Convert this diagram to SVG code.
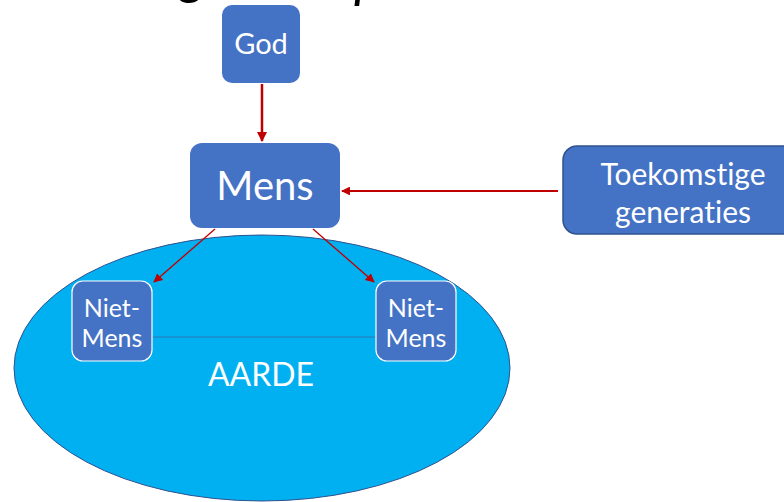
<svg xmlns="http://www.w3.org/2000/svg" width="784" height="502" viewBox="0 0 784 502">
  <defs>
    <style>
      .box { fill: #4472C4; }
      .lbl { fill: #FFFFFF; font-family: Lato, "Open Sans", sans-serif; text-anchor: middle; font-variant-ligatures: none; font-feature-settings: "liga" 0, "clig" 0; }
      .con { stroke: #C00000; fill: none; }
    </style>
    <marker id="ah" viewBox="0 0 10 10" refX="9" refY="5" markerWidth="4" markerHeight="4" orient="auto" markerUnits="strokeWidth">
      <path d="M0,0 L10,5 L0,10 z" fill="#C00000"/>
    </marker>
    <marker id="ahs" viewBox="0 0 10 10" refX="9" refY="5" markerWidth="7" markerHeight="7" orient="auto" markerUnits="strokeWidth">
      <path d="M0,0 L10,5 L0,10 z" fill="#C00000"/>
    </marker>
  </defs>
  <rect width="784" height="502" fill="#FFFFFF"/>
  <g id="title">
    <text x="180" y="-7" font-family="Lato, sans-serif" font-style="italic" font-size="54" fill="#000000">g</text>
    <text x="354" y="-3" font-family="Lato, sans-serif" font-style="italic" font-size="54" fill="#000000">p</text>
  </g>
  <g id="aarde">
    <ellipse cx="262" cy="368" rx="248" ry="133" fill="#00B0F0" stroke="#2F528F" stroke-width="1"/>
    <line x1="152" y1="337" x2="376" y2="337" stroke="#2E75B6" stroke-width="1"/>
    <text class="lbl" x="261" y="386" font-size="32">AARDE</text>
  </g>
  <g id="god">
    <rect class="box" x="222" y="5" width="78" height="78" rx="10"/>
    <text class="lbl" x="261" y="54" font-size="29">God</text>
  </g>
  <g id="mens">
    <rect class="box" x="190" y="143" width="150" height="85" rx="12"/>
    <text class="lbl" x="265" y="200" font-size="40">Mens</text>
  </g>
  <g id="toekomstige">
    <rect class="box" x="563" y="146" width="240" height="88" rx="14" stroke="#2F528F" stroke-width="1.5"/>
    <text class="lbl" x="683" y="185" font-size="30">Toekomstige</text>
    <text class="lbl" x="683" y="223" font-size="30">generaties</text>
  </g>
  <g id="nietmens-links">
    <rect class="box" x="72" y="281" width="80" height="80" rx="11" stroke="#FFFFFF" stroke-width="1.2"/>
    <text class="lbl" x="112" y="317" font-size="25">Niet-</text>
    <text class="lbl" x="112" y="347" font-size="25">Mens</text>
  </g>
  <g id="nietmens-rechts">
    <rect class="box" x="376" y="281" width="80" height="80" rx="11" stroke="#FFFFFF" stroke-width="1.2"/>
    <text class="lbl" x="416" y="317" font-size="25">Niet-</text>
    <text class="lbl" x="416" y="347" font-size="25">Mens</text>
  </g>
  <g id="connectors">
    <line class="con" x1="262" y1="84" x2="262" y2="141" stroke-width="2.5" marker-end="url(#ah)"/>
    <line class="con" x1="558" y1="191" x2="342" y2="191" stroke-width="2.2" marker-end="url(#ah)"/>
    <line class="con" x1="215" y1="229" x2="154" y2="282" stroke-width="1.3" marker-end="url(#ahs)"/>
    <line class="con" x1="313" y1="229" x2="374" y2="282" stroke-width="1.3" marker-end="url(#ahs)"/>
  </g>
</svg>
